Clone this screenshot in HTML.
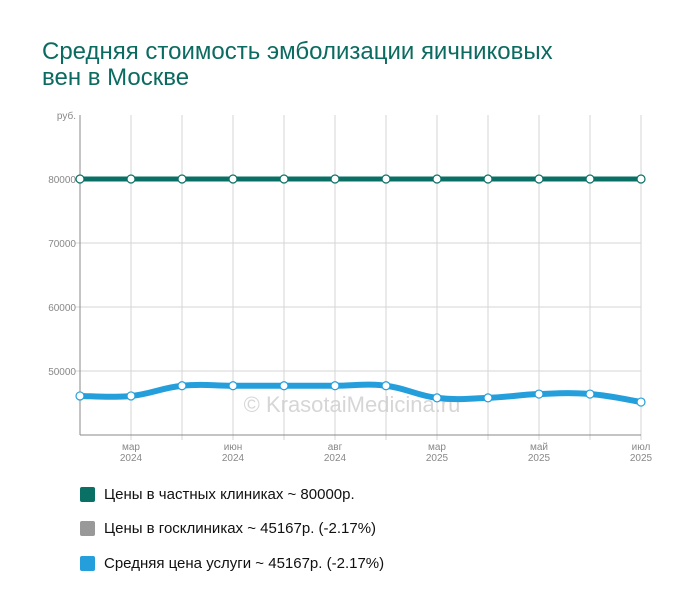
<!DOCTYPE html>
<html><head><meta charset="utf-8"><style>
body{margin:0;background:#fff;width:700px;height:612px;overflow:hidden;font-family:"Liberation Sans",sans-serif}
h1{position:absolute;left:42px;top:39px;margin:0;font-weight:normal;font-size:24px;line-height:26px;color:#0b6b60;width:540px}
.leg{position:absolute;left:80px;font-size:15px;color:#111;display:flex;align-items:center}
.sw{width:15px;height:15px;border-radius:2px;margin-right:9px}
</style></head><body>
<h1>Средняя стоимость эмболизации яичниковых вен в Москве</h1>
<svg id="c" width="700" height="612" style="position:absolute;left:0;top:0"></svg>
<div class="leg" style="top:486px"><div class="sw" style="background:#0a7066"></div>Цены в частных клиниках ~ 80000р.</div>
<div class="leg" style="top:520px"><div class="sw" style="background:#999"></div>Цены в госклиниках ~ 45167р. (-2.17%)</div>
<div class="leg" style="top:555px"><div class="sw" style="background:#259fdc"></div>Средняя цена услуги ~ 45167р. (-2.17%)</div>
<script>
const privateVals=[80000,80000,80000,80000,80000,80000,80000,80000,80000,80000,80000,80000];
const avgVals=[46100,46100,47700,47700,47700,47700,47700,45800,45800,46400,46400,45150];
const yTicks=[50000,60000,70000,80000];
const xLabels=[["",""],["мар","2024"],["",""],["июн","2024"],["",""],["авг","2024"],["",""],["мар","2025"],["",""],["май","2025"],["",""],["июл","2025"]];
const NS="http://www.w3.org/2000/svg",svg=document.getElementById('c');
const X0=80,X1=641,Y0=435,Y1=115,VMIN=40000,VMAX=90000;
const xs=i=>X0+(X1-X0)*i/(privateVals.length-1);
const ys=v=>Y0-(v-VMIN)/(VMAX-VMIN)*(Y0-Y1);
function mk(t,a,txt){const e=document.createElementNS(NS,t);for(const k in a)e.setAttribute(k,a[k]);if(txt!==undefined)e.textContent=txt;svg.appendChild(e);return e;}
for(let i=1;i<privateVals.length;i++){const g=mk('line',{x1:xs(i),x2:xs(i),y1:Y1,y2:Y0+5,stroke:'#d6d6d6'});

}
yTicks.forEach(v=>{const g=mk('line',{x1:X0-5,x2:X1,y1:ys(v),y2:ys(v),stroke:'#d6d6d6'});


const t=mk('text',{x:X0-4,y:ys(v)+4,'text-anchor':'end','font-size':10,fill:'#888'},v);

});
const u=mk('text',{x:X0-4,y:Y1+4,'text-anchor':'end','font-size':10,fill:'#888'},'руб.');


mk('line',{x1:X0,x2:X0,y1:Y1,y2:Y0,stroke:'#888'});
mk('line',{x1:X0,x2:X1,y1:Y0,y2:Y0,stroke:'#888'});
xLabels.forEach((l,i)=>{if(!l[0])return;[0,1].forEach(k=>{const t=mk('text',{x:xs(i),y:450+k*11,'text-anchor':'middle','font-size':10,fill:'#888'},l[k]);

});});
const wm=mk('text',{x:352,y:412,'text-anchor':'middle','font-size':22,fill:'#ccc','fill-opacity':0.8},'© KrasotaiMedicina.ru');


function path(vals){const p=vals.map((v,i)=>[xs(i),ys(v)]);let d=`M${p[0][0]},${p[0][1]}`;
for(let i=0;i<p.length-1;i++){const a=p[Math.max(i-1,0)],b=p[i],c=p[i+1],e=p[Math.min(i+2,p.length-1)],t=0.2;
d+=` C${b[0]+(c[0]-a[0])*t},${b[1]+(c[1]-a[1])*t} ${c[0]-(e[0]-b[0])*t},${c[1]-(e[1]-b[1])*t} ${c[0]},${c[1]}`;}return d;}
[[privateVals,'#0a7066',5,'private-line'],[avgVals,'#259fdc',6,'average-line']].forEach(([vals,col,w,n])=>{
const l=mk('path',{d:path(vals),fill:'none',stroke:col,'stroke-width':w});


vals.forEach((v,i)=>{const c=mk('circle',{cx:xs(i),cy:ys(v),r:4,fill:'#fff',stroke:col,'stroke-width':1.2});

});});
</script>
</body></html>
